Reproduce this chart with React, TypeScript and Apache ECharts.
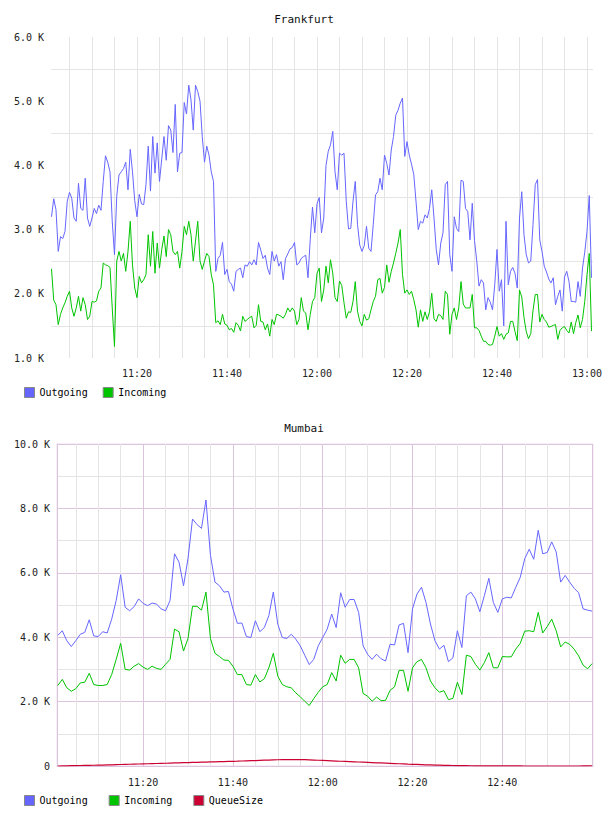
import React, { useEffect, useRef } from 'react';
import * as echarts from 'echarts';

// Time positions are minutes after 11:00
const frankfurtStartMin = 1; // 11:01
const frankfurtStepMin = 0.5; // 30 s samples

const frankfurtOutgoingK = [
  3.20, 3.48, 3.31, 2.66, 2.89, 2.86, 2.97, 3.44, 3.58, 3.49,
  3.18, 3.13, 3.72, 3.33, 3.30, 3.80, 3.18, 3.05, 3.18, 3.33,
  3.25, 3.38, 3.30, 3.75, 4.15, 4.05, 3.90, 3.13, 2.61, 3.52,
  3.85, 3.90, 3.95, 4.05, 3.62, 4.25, 3.90, 3.45, 3.20, 3.55,
  3.40, 3.39, 3.70, 4.30, 3.60, 4.45, 3.88, 4.35, 3.75, 4.10,
  4.45, 4.08, 4.62, 4.55, 4.20, 4.95, 3.90, 4.19, 4.20, 4.98,
  4.80, 5.25, 5.02, 4.55, 5.25, 5.15, 5.00, 4.45, 4.05, 4.30,
  4.16, 3.90, 3.75, 2.35, 2.55, 2.60, 2.80, 2.30, 2.38, 2.19,
  2.15, 2.04, 2.35, 2.38, 2.40, 2.25, 2.45, 2.43, 2.50, 2.45,
  2.53, 2.45, 2.80, 2.68, 2.55, 2.60, 2.40, 2.30, 2.66, 2.51,
  2.61, 2.43, 2.50, 2.22, 2.55, 2.62, 2.70, 2.72, 2.80, 2.45,
  2.48, 2.55, 2.58, 2.60, 2.25, 2.85, 3.35, 2.95, 3.40, 3.50,
  2.95, 3.18, 4.00, 4.22, 4.32, 4.53, 3.90, 3.62, 4.19, 4.16,
  4.19, 3.44, 3.01, 3.02, 3.44, 3.75, 3.08, 2.76, 2.66, 2.75,
  3.05, 2.71, 2.66, 3.08, 3.54, 3.59, 3.80, 3.62, 4.16, 4.03,
  3.85, 4.24, 4.45, 4.78, 4.86, 4.97, 5.05, 4.14, 4.37, 4.16,
  4.02, 3.86, 3.44, 3.00, 3.13, 3.10, 3.23, 3.18, 3.33, 3.62,
  3.18, 2.69, 2.45, 2.79, 2.95, 3.70, 3.75, 2.61, 2.35, 3.20,
  3.02, 2.97, 3.77, 3.75, 3.33, 3.28, 2.84, 3.41, 2.83, 2.51,
  2.12, 2.22, 2.17, 1.75, 1.94, 1.87, 1.75, 2.14, 2.69, 2.04,
  2.22, 1.50, 3.13, 2.14, 2.35, 2.41, 2.32, 2.09, 3.18, 3.59,
  2.92, 2.61, 2.48, 2.51, 3.08, 3.70, 3.78, 2.84, 2.66, 2.43,
  2.34, 2.23, 2.17, 2.25, 1.83, 1.96, 2.06, 1.73, 2.26, 2.35,
  2.19, 1.88, 1.88, 1.87, 2.19, 1.96, 2.40, 2.65, 2.97, 3.53,
  2.25,
];

const frankfurtIncomingK = [
  2.39, 1.90, 1.83, 1.52, 1.68, 1.78, 1.86, 1.96, 2.04, 1.78,
  1.65, 1.78, 1.96, 1.73, 1.94, 1.83, 1.60, 1.65, 1.88, 1.87,
  1.89, 2.04, 2.09, 2.48, 2.45, 2.44, 2.41, 1.78, 1.18, 2.51,
  2.66, 2.51, 2.63, 2.35, 2.66, 3.13, 2.45, 2.09, 1.94, 2.27,
  2.17, 2.22, 2.30, 2.92, 2.43, 2.97, 2.32, 2.79, 2.40, 2.69,
  2.90, 2.58, 3.00, 2.92, 2.66, 2.61, 2.66, 2.40, 2.66, 3.05,
  2.92, 3.13, 2.92, 2.51, 2.82, 3.13, 2.51, 2.38, 2.51, 2.63,
  2.58, 2.30, 2.14, 1.55, 1.58, 1.52, 1.68, 1.53, 1.51, 1.44,
  1.46, 1.40, 1.55, 1.51, 1.42, 1.65, 1.57, 1.60, 1.63, 1.65,
  1.47, 1.51, 1.83, 1.57, 1.56, 1.44, 1.53, 1.34, 1.60, 1.52,
  1.68, 1.67, 1.65, 1.62, 1.68, 1.78, 1.72, 1.78, 1.73, 1.52,
  1.60, 1.94, 1.73, 1.70, 1.44, 1.68, 1.88, 1.94, 2.32, 2.40,
  1.88, 2.06, 2.43, 2.17, 2.53, 2.32, 1.94, 1.88, 2.20, 2.13,
  1.86, 1.62, 1.72, 1.71, 1.88, 2.19, 1.73, 1.57, 1.50, 1.68,
  1.59, 1.61, 1.75, 1.88, 1.96, 2.22, 2.24, 2.01, 2.10, 2.45,
  2.18, 2.35, 2.48, 2.63, 2.79, 3.00, 2.30, 2.01, 2.06, 1.99,
  2.04, 1.91, 1.75, 1.48, 1.75, 1.57, 1.72, 1.60, 1.72, 2.01,
  1.61, 1.57, 1.68, 1.66, 1.60, 2.04, 1.99, 1.37, 1.68, 1.78,
  1.60, 1.78, 2.19, 1.84, 1.78, 1.78, 1.78, 1.99, 1.47, 1.47,
  1.43, 1.34, 1.26, 1.26, 1.21, 1.20, 1.21, 1.34, 1.49, 1.34,
  1.38, 1.29, 1.37, 1.39, 1.57, 1.57, 1.41, 1.27, 2.06, 1.95,
  1.63, 1.41, 1.30, 1.38, 1.74, 1.99, 1.99, 1.56, 1.68, 1.60,
  1.56, 1.48, 1.49, 1.51, 1.52, 1.29, 1.43, 1.47, 1.49, 1.43,
  1.39, 1.56, 1.38, 1.55, 1.67, 1.47, 1.60, 1.88, 2.30, 2.63,
  1.42,
];

const mumbaiStartMin = 1; // 11:01
const mumbaiStepMin = 1; // 1 min samples

const mumbaiOutgoingK = [
  4.06, 4.20, 3.89, 3.71, 3.89, 4.09, 4.15, 4.54, 4.04, 4.02,
  4.17, 4.13, 4.56, 5.14, 5.94, 4.93, 4.82, 4.95, 5.19, 5.05,
  4.98, 5.06, 5.03, 4.88, 4.82, 5.14, 6.59, 6.33, 5.60, 6.44,
  7.67, 7.50, 7.38, 8.26, 6.54, 5.71, 5.60, 5.40, 5.42, 4.88,
  4.43, 4.44, 4.02, 3.99, 4.51, 4.17, 4.30, 4.67, 5.40, 4.40,
  3.99, 3.96, 4.09, 3.94, 3.73, 3.44, 3.15, 3.31, 3.73, 3.99,
  4.25, 4.72, 4.30, 5.38, 4.93, 5.17, 5.17, 4.77, 3.73, 3.47,
  3.31, 3.47, 3.33, 3.26, 3.78, 3.76, 4.38, 4.43, 3.52, 4.88,
  5.34, 5.55, 5.08, 4.41, 3.89, 3.63, 3.75, 3.24, 3.36, 4.20,
  3.68, 5.29, 5.40, 5.19, 4.79, 5.29, 5.83, 5.08, 4.77, 5.19,
  5.24, 5.22, 5.55, 5.86, 6.44, 6.73, 6.42, 7.32, 6.59, 6.63,
  6.96, 6.65, 5.71, 5.92, 5.71, 5.52, 5.38, 4.88, 4.84, 4.81,
];

const mumbaiIncomingK = [
  2.50, 2.69, 2.43, 2.32, 2.40, 2.58, 2.60, 2.88, 2.53, 2.50,
  2.50, 2.53, 2.84, 3.31, 3.81, 3.00, 2.98, 3.10, 3.18, 3.07,
  3.00, 3.10, 3.03, 3.00, 3.16, 3.31, 4.25, 4.17, 3.57, 3.96,
  4.96, 4.96, 4.84, 5.40, 3.96, 3.50, 3.40, 3.29, 3.28, 3.10,
  2.84, 2.84, 2.53, 2.51, 2.84, 2.61, 2.71, 3.05, 3.50, 2.79,
  2.53, 2.46, 2.43, 2.27, 2.15, 2.01, 1.88, 2.09, 2.29, 2.46,
  2.53, 2.90, 2.64, 3.44, 3.19, 3.31, 3.31, 3.05, 2.25, 2.17,
  2.01, 2.14, 2.03, 2.04, 2.35, 2.46, 2.97, 2.97, 2.32, 3.05,
  3.24, 3.31, 3.05, 2.64, 2.43, 2.29, 2.34, 2.06, 2.10, 2.60,
  2.22, 3.44, 3.40, 3.16, 2.98, 3.21, 3.52, 3.05, 3.05, 3.40,
  3.39, 3.39, 3.63, 3.81, 4.19, 4.20, 4.17, 4.77, 4.13, 4.33,
  4.56, 4.20, 3.70, 3.85, 3.78, 3.63, 3.42, 3.13, 3.02, 3.18,
];

const mumbaiQueueSize = [
  0, 3, 6, 9, 12, 15, 18, 21, 24, 27,
  30, 34, 38, 42, 46, 50, 54, 58, 62, 66,
  70, 74, 78, 82, 86, 90, 94, 98, 102, 106,
  110, 114, 118, 122, 126, 130, 134, 138, 142, 146,
  150, 155, 160, 165, 170, 175, 180, 185, 190, 194,
  197, 199, 200, 200, 199, 195, 190, 184, 178, 172,
  166, 160, 154, 148, 142, 136, 130, 124, 118, 112,
  106, 100, 94, 88, 82, 76, 70, 64, 58, 53,
  48, 43, 38, 34, 30, 26, 22, 19, 16, 13,
  11, 9, 7, 6, 5, 4, 3, 2, 2, 1,
  1, 1, 1, 1, 0, 0, 0, 0, 0, 0,
  0, 0, 0, 0, 0, 0, 0, 2, 4, 8,
];

const frankfurtTimeLabels = ['11:20', '11:40', '12:00', '12:20', '12:40', '13:00'];
const mumbaiTimeLabels = ['11:20', '11:40', '12:00', '12:20', '12:40'];

const FONT = "'DejaVu Sans Mono', monospace";
const BLUE = '#6666ff';
const GREEN = '#00c400';
const RED = '#cc0033';
const GRAY = '#e4e4e4';
const PURPLE = '#dcc4dc';

const toMin = (s: string) => {
  const [h, m] = s.split(':').map(Number);
  return (h - 11) * 60 + m;
};
const fmtMin = (v: number) => {
  const m = Math.round(v);
  const h = 11 + Math.floor(m / 60);
  const mm = m % 60;
  return h + ':' + String(mm).padStart(2, '0');
};
const fiveMinLines: number[] = [];
for (let m = 5; m <= 120; m += 5) fiveMinLines.push(m);

const toPairs = (vals: number[], start: number, step: number, scale = 1) =>
  vals.map((v, i) => [start + i * step, v * scale]);

const axisText = { fontFamily: FONT, fontSize: 10, color: '#222' };

function buildOption(): any {
  return {
    animation: false,
    title: [
      { text: 'Frankfurt', left: 'center', top: 14, padding: 0, textStyle: { fontFamily: FONT, fontSize: 11, fontWeight: 'normal', color: '#111' } },
      { text: 'Mumbai', left: 'center', top: 423, padding: 0, textStyle: { fontFamily: FONT, fontSize: 11, fontWeight: 'normal', color: '#111' } },
    ],
    legend: [
      {
        data: ['Outgoing', 'Incoming'], left: 24, top: 387, padding: 0, icon: 'rect', itemWidth: 10, itemHeight: 10, itemGap: 15,
        selectedMode: false, textStyle: { fontFamily: FONT, fontSize: 10, color: '#000' }, itemStyle: { borderColor: '#888', borderWidth: 1 },
      },
      {
        data: ['Outgoing', 'Incoming', 'QueueSize'], left: 24, top: 795, padding: 0, icon: 'rect', itemWidth: 10, itemHeight: 10, itemGap: 21,
        selectedMode: false, textStyle: { fontFamily: FONT, fontSize: 10, color: '#000' }, itemStyle: { borderColor: '#888', borderWidth: 1 },
      },
    ],
    grid: [
      { left: 51, top: 37, width: 542, height: 321 },
      { left: 57, top: 444, width: 536, height: 322, show: true, borderColor: '#eedfee', borderWidth: 1, backgroundColor: 'transparent' },
    ],
    xAxis: [
      {
        type: 'value', gridIndex: 0, min: 0.89, max: 121.33,
        axisLine: { show: false }, axisTick: { show: false, customValues: fiveMinLines },
        axisLabel: { ...axisText, margin: 10, customValues: frankfurtTimeLabels.map(toMin), formatter: (v: number) => fmtMin(v) },
        splitLine: { show: true, lineStyle: { color: GRAY, width: 1 } },
      },
      {
        type: 'value', gridIndex: 1, min: 0.82, max: 120.2,
        axisLine: { show: true, lineStyle: { color: PURPLE, width: 1 } }, axisTick: { show: false, customValues: fiveMinLines },
        axisLabel: { ...axisText, margin: 11, customValues: mumbaiTimeLabels.map(toMin), formatter: (v: number) => fmtMin(v) },
        splitLine: { show: true, lineStyle: { color: [GRAY, GRAY, GRAY, PURPLE], width: 1 } },
      },
    ],
    yAxis: [
      {
        type: 'value', gridIndex: 0, min: 1, max: 6, interval: 0.5,
        axisLine: { show: false }, axisTick: { show: false },
        axisLabel: {
          ...axisText, margin: 7,
          formatter: (v: number) => (Math.abs(v - Math.round(v)) < 1e-6 ? v.toFixed(1) + ' K' : ''),
        },
        splitLine: { show: true, lineStyle: { color: ['rgba(0,0,0,0)', GRAY], width: 1 } },
      },
      {
        type: 'value', gridIndex: 1, min: 0, max: 10, interval: 1,
        axisLine: { show: true, lineStyle: { color: PURPLE, width: 1 } }, axisTick: { show: false },
        axisLabel: {
          ...axisText, margin: 7,
          formatter: (v: number) => {
            const r = Math.round(v);
            if (r === 0) return '0';
            return r % 2 === 0 ? r.toFixed(1) + ' K' : '';
          },
        },
        splitLine: { show: true, lineStyle: { color: [PURPLE, GRAY], width: 1 } },
      },
    ],
    series: [
      {
        name: 'Outgoing', type: 'line', xAxisIndex: 0, yAxisIndex: 0, showSymbol: false, symbol: 'none',
        data: toPairs(frankfurtOutgoingK, frankfurtStartMin, frankfurtStepMin),
        lineStyle: { color: BLUE, width: 1 }, itemStyle: { color: BLUE },
      },
      {
        name: 'Incoming', type: 'line', xAxisIndex: 0, yAxisIndex: 0, showSymbol: false, symbol: 'none',
        data: toPairs(frankfurtIncomingK, frankfurtStartMin, frankfurtStepMin),
        lineStyle: { color: GREEN, width: 1 }, itemStyle: { color: GREEN },
      },
      {
        name: 'Outgoing', type: 'line', xAxisIndex: 1, yAxisIndex: 1, showSymbol: false, symbol: 'none',
        data: toPairs(mumbaiOutgoingK, mumbaiStartMin, mumbaiStepMin),
        lineStyle: { color: BLUE, width: 1 }, itemStyle: { color: BLUE },
      },
      {
        name: 'Incoming', type: 'line', xAxisIndex: 1, yAxisIndex: 1, showSymbol: false, symbol: 'none',
        data: toPairs(mumbaiIncomingK, mumbaiStartMin, mumbaiStepMin),
        lineStyle: { color: GREEN, width: 1 }, itemStyle: { color: GREEN },
      },
      {
        name: 'QueueSize', type: 'line', xAxisIndex: 1, yAxisIndex: 1, showSymbol: false, symbol: 'none',
        data: toPairs(mumbaiQueueSize, mumbaiStartMin, mumbaiStepMin, 0.001),
        lineStyle: { color: RED, width: 1.2 }, itemStyle: { color: RED },
      },
    ],
  };
}

export default function App() {
  const ref = useRef<HTMLDivElement>(null);
  useEffect(() => {
    if (!ref.current) return;
    const chart = echarts.init(ref.current, undefined, { renderer: 'svg' });
    chart.setOption(buildOption());
    return () => chart.dispose();
  }, []);
  return <div ref={ref} style={{ position: 'absolute', left: 0, top: 0, width: 608, height: 816, background: '#fff' }} />;
}
